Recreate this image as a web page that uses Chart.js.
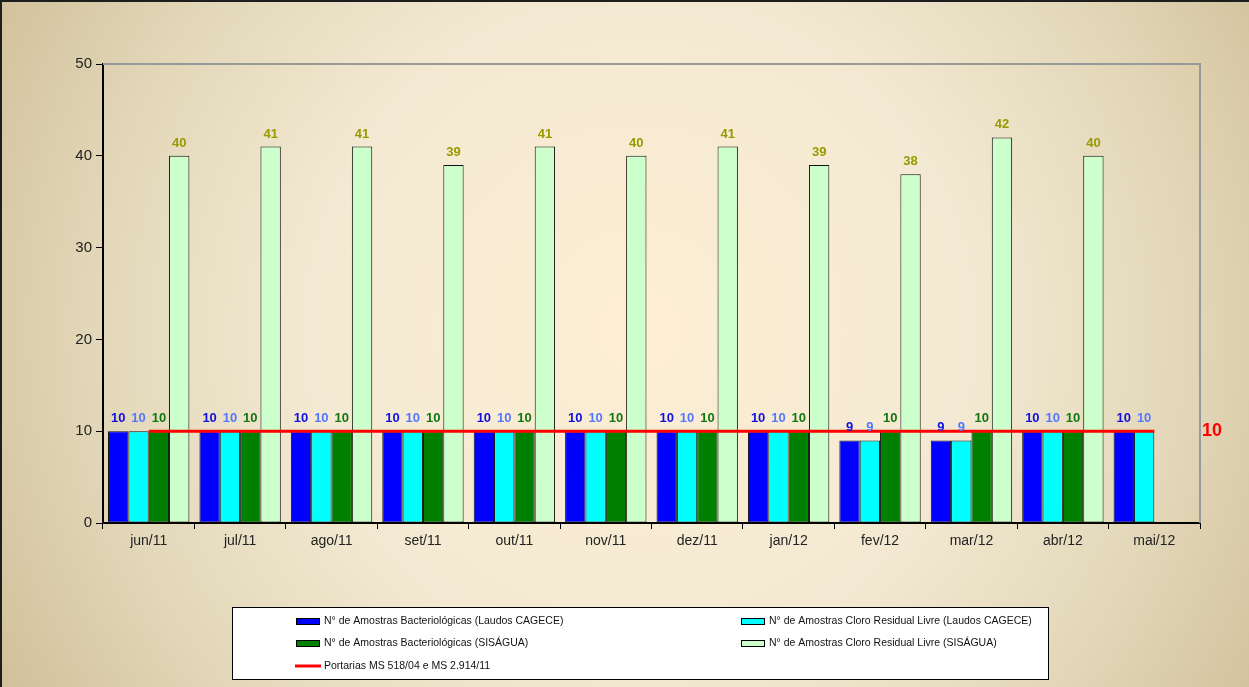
<!DOCTYPE html>
<html>
<head>
<meta charset="utf-8">
<script src="https://cdn.jsdelivr.net/npm/chart.js@4.4.1/dist/chart.umd.min.js"></script>
<style>
  body { margin: 0; padding: 0; background: #fff; }
  #wrap { width: 1249px; height: 687px; }
</style>
</head>
<body>
<div id="wrap"><canvas id="myChart" width="1249" height="687"></canvas></div>
<script>
// Data
const months = ['jun/11', 'jul/11', 'ago/11', 'set/11', 'out/11', 'nov/11', 'dez/11', 'jan/12', 'fev/12', 'mar/12', 'abr/12', 'mai/12'];
const bactCagece = [10, 10, 10, 10, 10, 10, 10, 10, 9, 9, 10, 10];
const cloroCagece = [10, 10, 10, 10, 10, 10, 10, 10, 9, 9, 10, 10];
const bactSisagua = [10, 10, 10, 10, 10, 10, 10, 10, 10, 10, 10, null];
const cloroSisagua = [40, 41, 41, 39, 41, 40, 41, 39, 38, 42, 40, null];
const portaria = [10, 10, 10, 10, 10, 10, 10, 10, 10, 10, 10, 10];
const yTicks = [0, 10, 20, 30, 40, 50];

const seriesNames = [
    'N° de Amostras Bacteriológicas (Laudos CAGECE)',
    'N° de Amostras Cloro Residual Livre (Laudos CAGECE)',
    'N° de Amostras Bacteriológicas (SISÁGUA)',
    'N° de Amostras Cloro Residual Livre (SISÁGUA)',
    'Portarias MS 518/04 e MS 2.914/11'
];

const FONT = '"Liberation Sans", Arial, sans-serif';

// background, frame and plot border
const backgroundPlugin = {
    id: 'backgroundPlugin',
    beforeDraw(chart) {
        const ctx = chart.ctx;
        const w = chart.width, h = chart.height;
        ctx.save();
        const g = ctx.createRadialGradient(640, 330, 20, 640, 330, 720);
        g.addColorStop(0, '#fdeed4');
        g.addColorStop(0.45, '#f3e9d2');
        g.addColorStop(0.75, '#e2d7b8');
        g.addColorStop(1, '#d2c29c');
        ctx.fillStyle = g;
        ctx.fillRect(0, 0, w, h);
        ctx.fillStyle = '#1e1e1e';
        ctx.fillRect(0, 0, w, 2);
        ctx.fillRect(0, 0, 2, h);
        ctx.restore();
    },
    beforeDatasetsDraw(chart) {
        const ctx = chart.ctx;
        const a = chart.chartArea;
        ctx.save();
        ctx.strokeStyle = '#999999';
        ctx.lineWidth = 2;
        ctx.beginPath();
        ctx.moveTo(a.left, a.top);
        ctx.lineTo(a.right, a.top);
        ctx.lineTo(a.right, a.bottom);
        ctx.stroke();
        ctx.restore();
    }
};

// value labels above bars + red "10" at the end of the line
const labelColors = ['#1010e0', '#5577ff', '#117711', '#999900'];
const valueLabelPlugin = {
    id: 'valueLabelPlugin',
    afterDatasetsDraw(chart) {
        const ctx = chart.ctx;
        ctx.save();
        ctx.textAlign = 'center';
        ctx.textBaseline = 'alphabetic';
        ctx.font = 'bold 13px ' + FONT;
        for (let d = 0; d < 4; d++) {
            const meta = chart.getDatasetMeta(d);
            const values = chart.data.datasets[d].data;
            ctx.fillStyle = labelColors[d];
            meta.data.forEach((el, i) => {
                if (values[i] === null) return;
                ctx.fillText(String(values[i]), el.x, el.y - 9);
            });
        }
        const lineMeta = chart.getDatasetMeta(4);
        const last = lineMeta.data[lineMeta.data.length - 1];
        ctx.fillStyle = '#ff0000';
        ctx.font = 'bold 18px ' + FONT;
        ctx.textAlign = 'left';
        ctx.textBaseline = 'middle';
        ctx.fillText(String(portaria[portaria.length - 1]), chart.chartArea.right + 2, last.y);
        ctx.restore();
    }
};

// boxed legend in two columns
const legendBoxPlugin = {
    id: 'legendBoxPlugin',
    afterDraw(chart) {
        const ctx = chart.ctx;
        const box = { x: 232.5, y: 607.5, w: 816, h: 72 };
        ctx.save();
        ctx.fillStyle = '#ffffff';
        ctx.fillRect(box.x, box.y, box.w, box.h);
        ctx.strokeStyle = '#000000';
        ctx.lineWidth = 1;
        ctx.strokeRect(box.x, box.y, box.w, box.h);
        ctx.font = '10.5px ' + FONT;
        ctx.textBaseline = 'middle';
        ctx.textAlign = 'left';
        const slots = [[296, 621], [741, 621], [296, 643], [741, 643], [296, 666]];
        chart.data.datasets.forEach((ds, i) => {
            const [sx, sy] = slots[i];
            if (ds.type === 'line') {
                ctx.strokeStyle = ds.borderColor;
                ctx.lineWidth = 3;
                ctx.beginPath();
                ctx.moveTo(sx - 1, sy);
                ctx.lineTo(sx + 25, sy);
                ctx.stroke();
            } else {
                ctx.fillStyle = ds.backgroundColor;
                ctx.fillRect(sx, sy - 3, 23, 6);
                ctx.strokeStyle = '#000';
                ctx.lineWidth = 1;
                ctx.strokeRect(sx + 0.5, sy - 2.5, 23, 6);
            }
            ctx.fillStyle = '#111';
            ctx.fillText(ds.label, sx + 28, sy);
        });
        ctx.restore();
    }
};

const barColors = ['#0000ff', '#00ffff', '#008000', '#ccffcc'];
const barSeries = [bactCagece, cloroCagece, bactSisagua, cloroSisagua];

const datasets = barSeries.map((vals, i) => ({
    type: 'bar',
    label: seriesNames[i],
    data: vals,
    backgroundColor: barColors[i],
    borderColor: '#111111',
    borderWidth: 1,
    borderSkipped: false,
    barPercentage: 1.0,
    categoryPercentage: 0.89,
    order: 2
}));

datasets.push({
    type: 'line',
    label: seriesNames[4],
    data: portaria,
    borderColor: '#ff0000',
    borderWidth: 3,
    pointRadius: 0,
    fill: false,
    order: 0
});

const ctx = document.getElementById('myChart').getContext('2d');
new Chart(ctx, {
    data: { labels: months, datasets: datasets },
    options: {
        responsive: false,
        animation: false,
        devicePixelRatio: 1,
        layout: { padding: { left: 0, top: 64, right: 49, bottom: 0 } },
        plugins: {
            legend: { display: false },
            tooltip: { enabled: false }
        },
        scales: {
            x: {
                grid: { display: true, drawOnChartArea: false, drawTicks: true, tickLength: 6, color: '#000', offset: true },
                border: { display: true, color: '#000', width: 2 },
                ticks: { color: '#222', font: { family: FONT, size: 14 }, padding: 4, maxRotation: 0 },
                afterFit(scale) { scale.height = 164; }
            },
            y: {
                min: 0,
                max: 50,
                afterBuildTicks(scale) { scale.ticks = yTicks.map(v => ({ value: v })); },
                grid: { display: true, drawOnChartArea: false, drawTicks: true, tickLength: 7, color: '#000' },
                border: { display: true, color: '#000', width: 2 },
                ticks: { color: '#222', font: { family: FONT, size: 15 }, padding: 4 },
                afterFit(scale) { scale.width = 103; }
            }
        }
    },
    plugins: [backgroundPlugin, valueLabelPlugin, legendBoxPlugin]
});
</script>
</body>
</html>
